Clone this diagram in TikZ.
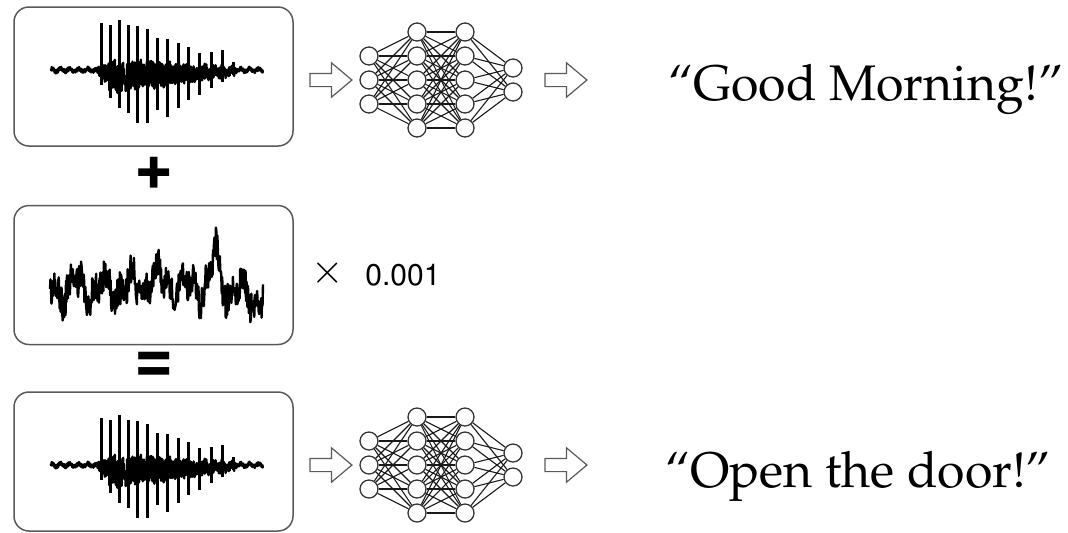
\documentclass[tikz,border=0pt]{standalone}
\usepackage[T1]{fontenc}
\usepackage{mathpazo}
\usepackage{helvet}
\usetikzlibrary{shapes.arrows}

% speech burst: small noise, a dense body and tall spikes
\newcommand{\speechwave}[1]{%
  \pgfmathsetseed{42}
  \draw[wave] plot[domain=51:263, samples=1000]
    (\x, {#1 + (\x>95)*(\x<236)*min(1,(\x-95)/18)*(1-(\x-97)/180)*(7 + 18*rand)
      + 2*rand + 1.5*sin(40*\x)});
  \foreach \sx/\st/\sb in {101/-47/15, 110/-45/28, 119/-50/38, 128/-45/43, 137/-44/53,
      147/-41/53, 157/-32/40, 167/-31/47, 178/-27/38, 188/-23/30, 199/-17/25,
      211/-18/18, 222/-20/12, 233/-8/5}
    \draw[spike] (\sx,{#1+\st}) -- (\sx,{#1+\sb});
}

\begin{document}
\begin{tikzpicture}[
    x=0.5pt, y=-0.5pt,
    panel/.style={draw=black!65, line width=0.75pt, rounded corners=7.5pt,
      minimum width=139.5pt, minimum height=69.5pt, inner sep=0pt},
    neuron/.style={circle, draw=black!80, line width=0.65pt, minimum size=9pt, inner sep=0pt},
    synapse/.style={draw=black!90, line width=0.55pt},
    flow/.style={single arrow, draw=black!65, line width=0.6pt, minimum height=21pt,
      inner xsep=0pt, inner ysep=3pt, single arrow head extend=5.25pt, single arrow tip angle=80},
    wave/.style={line width=1.2pt, line join=round},
    spike/.style={line width=1.5pt},
    sym/.style={font=\sffamily\bfseries\fontsize{32}{34}\selectfont, inner sep=0pt},
    saying/.style={font=\fontsize{25}{30}\selectfont, anchor=base west, inner sep=0pt}
  ]
  \useasboundingbox (0,0) rectangle (1068,532);

  % the three signal panels
  \node[panel] (clean) at (153.5,76.5) {};
  \node[panel] (noise) at (153.5,275) {};
  \node[panel] (adv) at (153.5,461.5) {};

  \speechwave{70}
  \speechwave{465}

  \pgfmathsetseed{7}
  \draw[wave] plot[domain=50:263, samples=440]
    (\x, {288 + 10*sin(13*\x) + 8*sin(29*\x+50) + 16*rand
      - 38/(1+((\x-215)/3)*((\x-215)/3)) - 10/(1+((\x-155)/12)*((\x-155)/12))
      + 12/(1+((\x-250)/10)*((\x-250)/10))});

  \node[sym] (plus) at (154,171) {+};
  \node[sym] (equals) at (154,365) {=};
  \node[font=\fontsize{20}{22}\selectfont, inner sep=0pt] (times) at (328,273) {$\times$};
  \node[anchor=base west, font=\sffamily\fontsize{15}{18}\selectfont, inner sep=0pt] (scale) at (365,285) {0.001};

  % two copies of the network
  \foreach \net/\yc in {top/80, bot/465} {
    \foreach \l/\lx/\n in {1/369/3, 2/417/5, 3/465/5, 4/513/2}
      \foreach \i in {1,...,\n}
        \node[neuron] (\net-\l-\i) at (\lx, {\yc + (\i - (\n+1)/2)*24}) {};
    \foreach \l/\m/\na/\nb in {1/2/3/5, 2/3/5/5, 3/4/5/2}
      \foreach \i in {1,...,\na}
        \foreach \j in {1,...,\nb}
          \draw[synapse] (\net-\l-\i) -- (\net-\m-\j);
    \node[flow] (\net-in) at (327,\yc) {};
    \node[flow] (\net-out) at (562,\yc) {};
  }

  \node[saying] (said) at (668,100) {``Good Morning!''};
  \node[saying] (heard) at (665,487) {``Open the door!''};
\end{tikzpicture}
\end{document}
